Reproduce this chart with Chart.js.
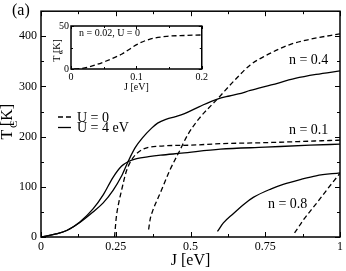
<!DOCTYPE html>
<html>
<head>
<meta charset="utf-8">
<script src="https://cdn.jsdelivr.net/npm/chart.js@4"></script>
<style>
  html, body { margin: 0; padding: 0; background: #fff; }
  #wrap { position: relative; width: 346px; height: 271px; }
  #main { position: absolute; left: 0; top: 0; }
  #inset { position: absolute; left: 40px; top: 18px; }
</style>
</head>
<body>
<div id="wrap">
  <canvas id="main" width="346" height="271"></canvas>
  <canvas id="inset" width="170" height="80"></canvas>
</div>
<script>
// main panel: T_C vs J, U = 4 eV (solid) and U = 0 (dashed)
const J_n01_U4 = [0, 0.05, 0.086, 0.13, 0.174, 0.208, 0.241, 0.269, 0.291, 0.32, 0.36, 0.4, 0.47, 0.6, 0.75, 0.9, 1.0];
const Tc_n01_U4 = [0, 6, 13, 30, 56, 84, 119, 141, 150, 156, 160, 163, 167, 175, 179, 183, 185];

const J_n04_U4 = [0, 0.05, 0.086, 0.13, 0.174, 0.208, 0.241, 0.269, 0.291, 0.315, 0.34, 0.37, 0.39, 0.42, 0.45, 0.48, 0.53, 0.59, 0.63, 0.66, 0.7, 0.77, 0.85, 0.92, 1.0];
const Tc_n04_U4 = [0, 6, 13, 29, 50, 68, 93, 121, 150, 178, 198, 217, 227, 235, 240, 246, 260, 275, 281, 285, 292, 303, 316, 324, 331];

const J_n08_U4 = [0.59, 0.61, 0.642, 0.68, 0.71, 0.77, 0.81, 0.87, 0.92, 1.0];
const Tc_n08_U4 = [11, 28, 46, 66, 79, 96, 105, 115, 122, 128];

const J_n01_U0 = [0.246, 0.252, 0.26, 0.269, 0.286, 0.308, 0.341, 0.397, 0.5, 0.6, 0.75, 0.9, 1.0];
const Tc_n01_U0 = [0, 40, 68, 92, 132, 158, 175, 181, 183, 186, 188, 191, 193];

const J_n04_U0 = [0.36, 0.365, 0.374, 0.388, 0.402, 0.43, 0.463, 0.491, 0.53, 0.59, 0.65, 0.7, 0.75, 0.83, 0.9, 1.0];
const Tc_n04_U0 = [15, 35, 53, 73, 92, 132, 171, 204, 237, 275, 314, 343, 361, 383, 394, 405];

const J_n08_U0 = [0.848, 0.88, 0.92, 0.96, 1.0];
const Tc_n08_U0 = [8, 36, 66, 97, 127];

// inset: n = 0.02, U = 0
const J_inset = [0.005, 0.015, 0.028, 0.053, 0.078, 0.102, 0.122, 0.147, 0.175, 0.2];
const Tc_inset = [0, 0.6, 2.6, 9, 17.5, 29, 35, 38, 39, 39.6];

const xTickLabels = ['0', '0.25', '0.5', '0.75', '1'];
const seriesLabels = ['n = 0.4', 'n = 0.1', 'n = 0.8'];

Chart.defaults.font.family = "'Liberation Serif', 'DejaVu Serif', serif";
Chart.defaults.color = '#000';

const SERIF = "'Liberation Serif', serif";

function pts(xs, ys) {
    return xs.map((x, i) => ({ x: x, y: ys[i] }));
}

function curve(xs, ys, dashed) {
    return {
        data: pts(xs, ys),
        borderColor: '#000',
        borderWidth: 1.3,
        borderDash: dashed ? [5, 3] : [],
        pointRadius: 0,
        fill: false,
        cubicInterpolationMode: 'monotone',
    };
}

// inward tick marks on all four sides
function drawTicks(chart, xStep, xMajor, yStep, yMajor, majLen, minLen) {
    const { ctx, chartArea: a, scales: { x, y } } = chart;
    ctx.save();
    ctx.strokeStyle = '#000';
    ctx.lineWidth = 1;
    ctx.beginPath();
    for (let v = x.min; v <= x.max + 1e-9; v += xStep) {
        const r = v / xMajor;
        const len = Math.abs(r - Math.round(r)) < 1e-6 ? majLen : minLen;
        const px = Math.round(x.getPixelForValue(v)) + 0.5;
        ctx.moveTo(px, a.bottom); ctx.lineTo(px, a.bottom - len);
        ctx.moveTo(px, a.top); ctx.lineTo(px, a.top + len);
    }
    for (let v = y.min; v <= y.max + 1e-9; v += yStep) {
        const r = v / yMajor;
        const len = Math.abs(r - Math.round(r)) < 1e-6 ? majLen : minLen;
        const py = Math.round(y.getPixelForValue(v)) + 0.5;
        ctx.moveTo(a.left, py); ctx.lineTo(a.left + len, py);
        ctx.moveTo(a.right, py); ctx.lineTo(a.right - len, py);
    }
    ctx.stroke();
    ctx.lineWidth = 1.5;
    ctx.strokeRect(a.left, a.top, a.right - a.left, a.bottom - a.top);
    ctx.restore();
}

// rotated "T_C [K]" with subscript
function drawTcTitle(ctx, cx, cy, size) {
    const sub = Math.round(size * 0.7);
    ctx.save();
    ctx.translate(cx, cy);
    ctx.rotate(-Math.PI / 2);
    ctx.fillStyle = '#000';
    ctx.textBaseline = 'alphabetic';
    ctx.font = size + 'px ' + SERIF;
    const wT = ctx.measureText('T').width;
    const wK = ctx.measureText(' [K]').width;
    ctx.font = sub + 'px ' + SERIF;
    const wC = ctx.measureText('C').width;
    let xx = -(wT + wC + wK) / 2;
    ctx.font = size + 'px ' + SERIF;
    ctx.fillText('T', xx, 0);
    xx += wT + 0.5;
    ctx.font = sub + 'px ' + SERIF;
    ctx.fillText('C', xx, size * 0.3);
    xx += wC;
    ctx.font = size + 'px ' + SERIF;
    ctx.fillText(' [K]', xx, 0);
    ctx.restore();
}

const mainDecor = {
    id: 'mainDecor',
    beforeDraw(chart) {
        const ctx = chart.ctx;
        ctx.save();
        ctx.fillStyle = '#fff';
        ctx.fillRect(0, 0, chart.width, chart.height);
        ctx.restore();
    },
    afterDraw(chart) {
        const { ctx, chartArea: a, scales: { x, y } } = chart;
        drawTicks(chart, 0.125, 0.25, 50, 100, 5, 3);

        ctx.save();
        ctx.fillStyle = '#000';
        ctx.textBaseline = 'alphabetic';

        ctx.font = '16px ' + SERIF;
        ctx.textAlign = 'left';
        ctx.fillText('(a)', 12, 15);

        ctx.textAlign = 'center';
        ctx.fillText('J [eV]', (a.left + a.right) / 2, 265);
        drawTcTitle(ctx, 12, 113, 16);

        // curve labels
        ctx.font = '14px ' + SERIF;
        ctx.fillText(seriesLabels[0], x.getPixelForValue(0.895), y.getPixelForValue(345));
        ctx.fillText(seriesLabels[1], x.getPixelForValue(0.895), y.getPixelForValue(205));
        ctx.fillText(seriesLabels[2], x.getPixelForValue(0.825), y.getPixelForValue(57));

        // legend
        ctx.textAlign = 'left';
        ctx.fillText('U = 0', 77, 121.5);
        ctx.fillText('U = 4 eV', 77, 131.5);
        ctx.strokeStyle = '#000';
        ctx.lineWidth = 1.3;
        ctx.setLineDash([5, 3]);
        ctx.beginPath();
        ctx.moveTo(58, 117); ctx.lineTo(71, 117);
        ctx.stroke();
        ctx.setLineDash([]);
        ctx.beginPath();
        ctx.moveTo(58, 127.5); ctx.lineTo(71, 127.5);
        ctx.stroke();
        ctx.restore();
    }
};

new Chart(document.getElementById('main'), {
    type: 'line',
    data: {
        datasets: [
            curve(J_n01_U4, Tc_n01_U4, false),
            curve(J_n04_U4, Tc_n04_U4, false),
            curve(J_n08_U4, Tc_n08_U4, false),
            curve(J_n01_U0, Tc_n01_U0, true),
            curve(J_n04_U0, Tc_n04_U0, true),
            curve(J_n08_U0, Tc_n08_U0, true),
        ],
    },
    options: {
        responsive: false,
        animation: false,
        devicePixelRatio: 1,
        layout: { padding: { top: 9, right: 5, left: 0, bottom: 0 } },
        plugins: { legend: { display: false }, tooltip: { enabled: false } },
        scales: {
            x: {
                type: 'linear',
                min: 0,
                max: 1,
                grid: { display: false, drawTicks: false },
                border: { display: false },
                ticks: {
                    stepSize: 0.25,
                    padding: 3,
                    font: { size: 12 },
                    maxRotation: 0,
                    autoSkip: false,
                    callback: (v) => xTickLabels[Math.round(v / 0.25)] ?? '',
                },
                afterFit(scale) { scale.height = 34; },
            },
            y: {
                type: 'linear',
                min: 0,
                max: 450,
                grid: { display: false, drawTicks: false },
                border: { display: false },
                ticks: {
                    stepSize: 50,
                    padding: 4,
                    font: { size: 12 },
                    autoSkip: false,
                    callback: (v) => (v % 100 === 0 ? v : ''),
                },
                afterFit(scale) { scale.width = 41; },
            },
        },
    },
    plugins: [mainDecor],
});

const insetDecor = {
    id: 'insetDecor',
    beforeDraw(chart) {
        const { ctx, chartArea: a } = chart;
        ctx.save();
        ctx.fillStyle = '#fff';
        ctx.fillRect(a.left, a.top, a.right - a.left, a.bottom - a.top);
        ctx.restore();
    },
    afterDraw(chart) {
        const { ctx, chartArea: a } = chart;
        drawTicks(chart, 0.05, 0.1, 25, 50, 3, 2);
        ctx.save();
        ctx.fillStyle = '#000';
        ctx.textBaseline = 'alphabetic';
        ctx.font = '10px ' + SERIF;
        ctx.textAlign = 'left';
        ctx.fillText('n = 0.02, U = 0', 39, 18);
        ctx.textAlign = 'center';
        ctx.fillText('J [eV]', (a.left + a.right) / 2, 72);
        drawTcTitle(ctx, 20, 27, 10);
        ctx.restore();
    }
};

new Chart(document.getElementById('inset'), {
    type: 'line',
    data: { datasets: [curve(J_inset, Tc_inset, true)] },
    options: {
        responsive: false,
        animation: false,
        devicePixelRatio: 1,
        layout: { padding: { top: 6, right: 4, left: 0, bottom: 0 } },
        plugins: { legend: { display: false }, tooltip: { enabled: false } },
        scales: {
            x: {
                type: 'linear',
                min: 0,
                max: 0.2,
                grid: { display: false, drawTicks: false },
                border: { display: false },
                ticks: { stepSize: 0.1, padding: 2, font: { size: 10 }, maxRotation: 0, autoSkip: false },
                afterFit(scale) { scale.height = 29; },
            },
            y: {
                type: 'linear',
                min: 0,
                max: 50,
                grid: { display: false, drawTicks: false },
                border: { display: false },
                ticks: { stepSize: 50, padding: 2, font: { size: 10 } },
                afterFit(scale) { scale.width = 31; },
            },
        },
    },
    plugins: [insetDecor],
});
</script>
</body>
</html>
